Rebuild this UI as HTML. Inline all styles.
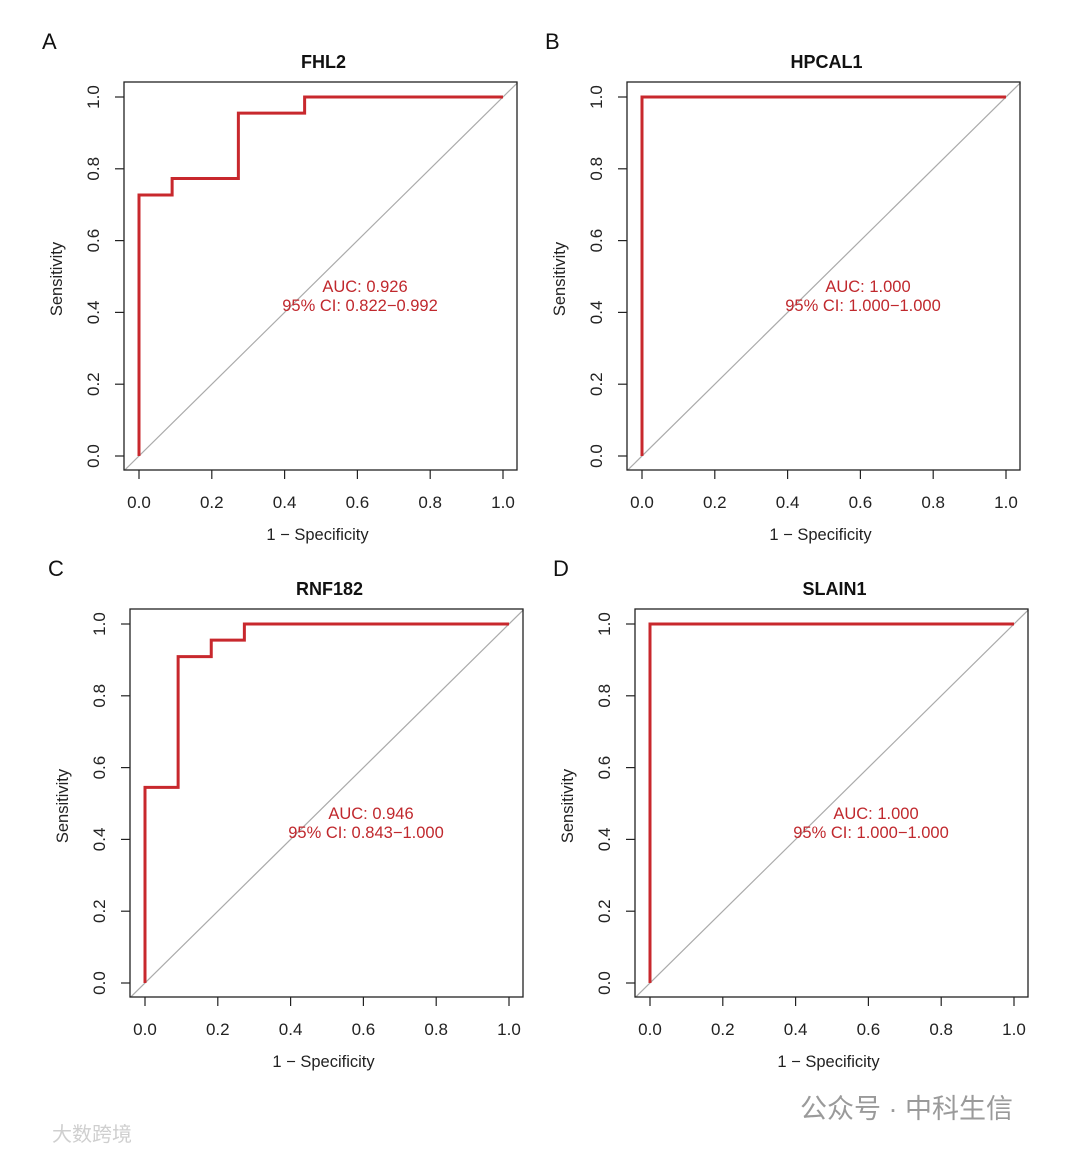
<!DOCTYPE html>
<html><head><meta charset="utf-8"><style>
body{margin:0;background:#fff;}
svg text{font-family:"Liberation Sans","Noto Sans CJK SC",sans-serif;}
</style></head><body>
<svg id="fig" width="1080" height="1153" xmlns="http://www.w3.org/2000/svg">
<rect width="1080" height="1153" fill="#fff"/>
<text x="800" y="1118" font-size="27" fill="#9a9a9a">公众号 · 中科生信</text>
<text x="52" y="1141" font-size="20" fill="#cfcfcf">大数跨境</text>
</svg>
<script>
const panelLetters = ["A","B","C","D"];
const panelTitles = ["FHL2","HPCAL1","RNF182","SLAIN1"];
const aucLabels = ["AUC: 0.926","AUC: 1.000","AUC: 0.946","AUC: 1.000"];
const ciLabels = ["95% CI: 0.822\u22120.992","95% CI: 1.000\u22121.000","95% CI: 0.843\u22121.000","95% CI: 1.000\u22121.000"];
const fprA = [0,0,0.091,0.091,0.273,0.273,0.455,0.455,1];
const tprA = [0,0.727,0.727,0.773,0.773,0.955,0.955,1,1];
const fprB = [0,0,1];
const tprB = [0,1,1];
const fprC = [0,0,0.091,0.091,0.182,0.182,0.273,0.273,1];
const tprC = [0,0.545,0.545,0.909,0.909,0.955,0.955,1,1];
const fprD = [0,0,1];
const tprD = [0,1,1];
const tickValues = [0,0.2,0.4,0.6,0.8,1.0];
const tickLabels = ["0.0","0.2","0.4","0.6","0.8","1.0"];

const svg = document.getElementById('fig');
const NS = "http://www.w3.org/2000/svg";
function mk(tag, attrs, parent){const e=document.createElementNS(NS,tag);for(const k in attrs)e.setAttribute(k,attrs[k]);(parent||svg).appendChild(e);return e;}

const origins = [[124,82],[627,82],[130,609],[635,609]];
const fprs=[fprA,fprB,fprC,fprD], tprs=[tprA,tprB,tprC,tprD];

origins.forEach((o,i)=>{
  const L=o[0], T=o[1], W=393, H=388;
  const x=v=>L+15+v*364;
  const y=v=>T+374-v*359;
  const g=mk('g',{});
  
  
  let t=mk('text',{x:L-82,y:T-33,'font-size':22,fill:'#111'},g);t.textContent=panelLetters[i];
  
  
  t=mk('text',{x:L+W/2+3,y:T-14,'font-size':18,'font-weight':'bold','text-anchor':'middle',fill:'#111'},g);t.textContent=panelTitles[i];
  
  
  const d=mk('line',{x1:x(1.04),y1:y(1.04),x2:x(-0.04),y2:y(-0.04),stroke:'#aaa','stroke-width':1.2},g);
  
  
  const pts=fprs[i].map((f,j)=>x(f)+','+y(tprs[i][j])).join(' ');
  const c=mk('polyline',{points:pts,fill:'none',stroke:'#c8282d','stroke-width':3},g);
  
  
  const b=mk('rect',{x:L,y:T,width:W,height:H,fill:'none',stroke:'#222','stroke-width':1.3},g);
  
  
  tickValues.forEach((v,k)=>{
    mk('line',{x1:x(v),y1:T+H,x2:x(v),y2:T+H+9,stroke:'#222','stroke-width':1.2},g);
    let tx=mk('text',{x:x(v),y:T+H+38,'font-size':17,'text-anchor':'middle',fill:'#222'},g);tx.textContent=tickLabels[k];
    
    
    mk('line',{x1:L,y1:y(v),x2:L-9,y2:y(v),stroke:'#222','stroke-width':1.2},g);
    let ty=mk('text',{x:0,y:0,'font-size':17,'text-anchor':'middle',fill:'#222',transform:`translate(${L-25},${y(v)}) rotate(-90)`},g);ty.textContent=tickLabels[k];
    
    
  });
  t=mk('text',{x:L+W/2-3,y:T+H+70,'font-size':16.5,'text-anchor':'middle',fill:'#222'},g);t.textContent='1 \u2212 Specificity';
  
  
  t=mk('text',{x:0,y:0,'font-size':16.5,'text-anchor':'middle',fill:'#222',transform:`translate(${L-62},${T+H/2+3}) rotate(-90)`},g);t.textContent='Sensitivity';
  
  
  t=mk('text',{x:L+241,y:T+210,'font-size':16.5,'text-anchor':'middle',fill:'#c0282d'},g);t.textContent=aucLabels[i];
  
  
  t=mk('text',{x:L+236,y:T+229,'font-size':16.5,'text-anchor':'middle',fill:'#c0282d'},g);t.textContent=ciLabels[i];
  
  
});
</script>
</body></html>
